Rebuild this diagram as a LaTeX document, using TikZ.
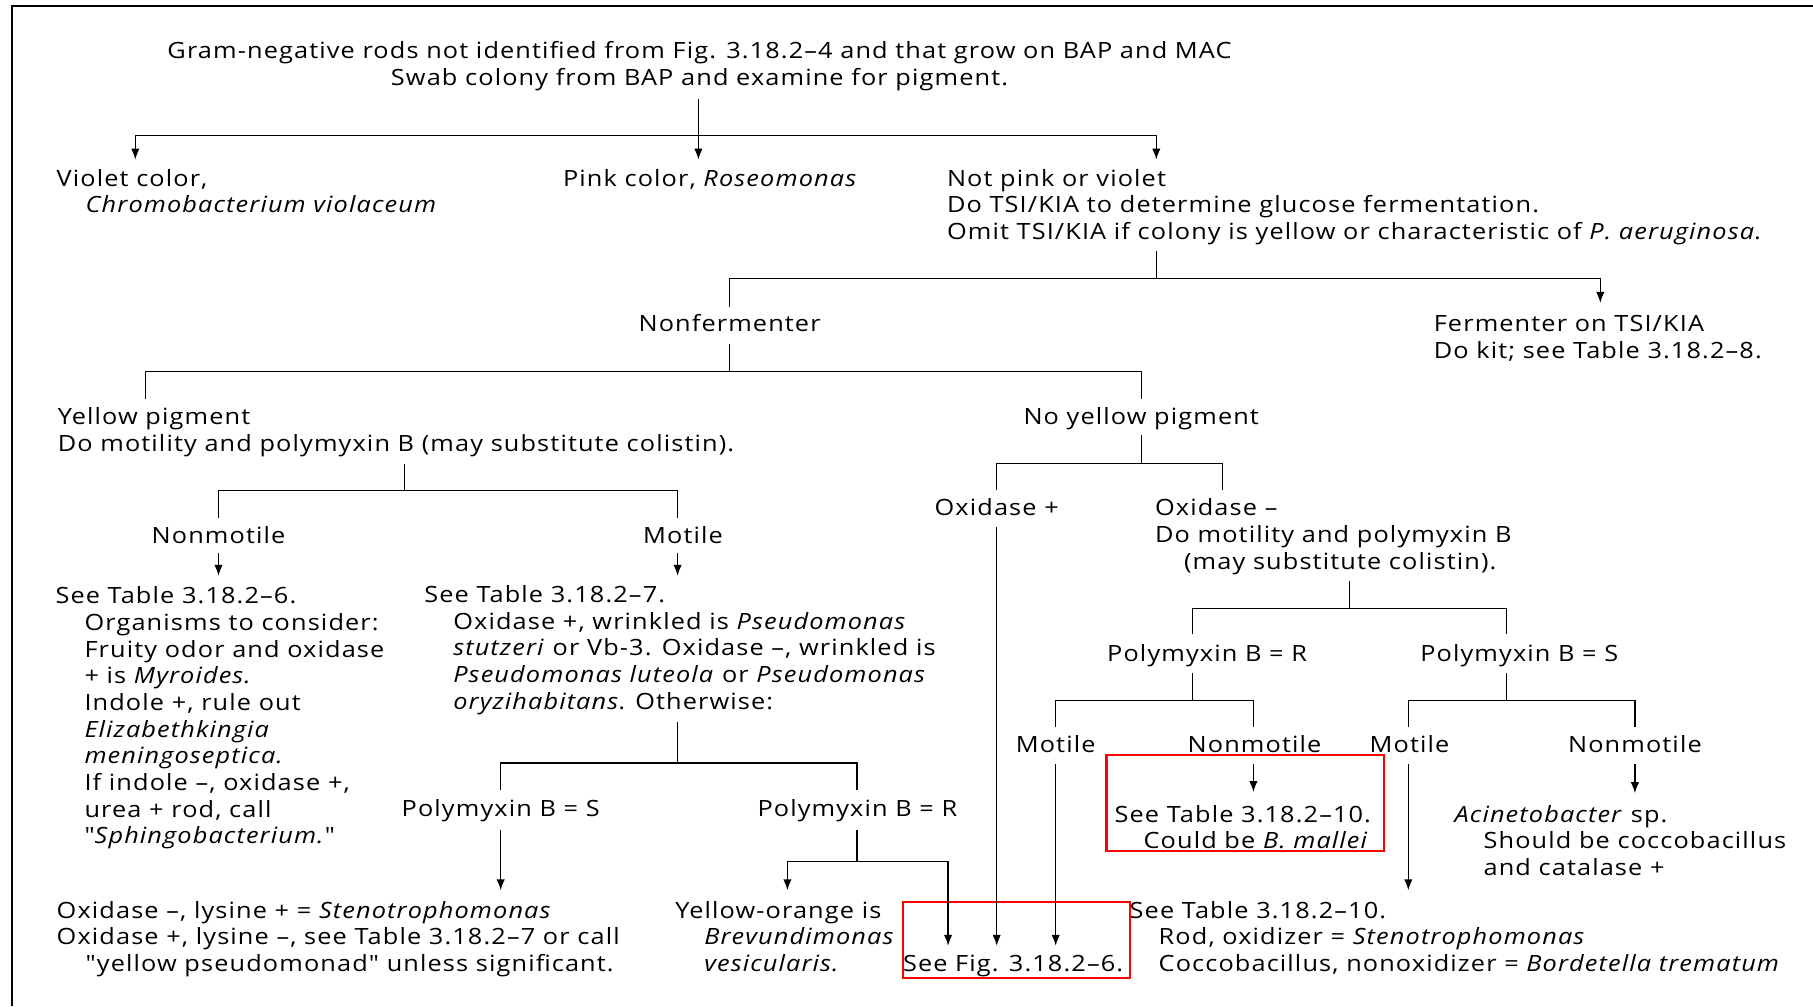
\documentclass[tikz,border=0pt]{standalone}
\usepackage{fontspec}
\setmainfont{Open Sans}[Ligatures=TeXOff, FakeStretch=1.13, LetterSpace=5]
\usetikzlibrary{arrows.meta}

% multi-line text blocks whose reference point is the first baseline
\newcommand\blockL[1]{\begin{tabular}[t]{@{}l@{}}#1\end{tabular}}
\newcommand\blockC[1]{\begin{tabular}[t]{@{}c@{}}#1\end{tabular}}
\newcommand\ind{\hspace*{14.5pt}}

\begin{document}
\begin{tikzpicture}[
  x=0.5pt, y=-0.5pt,
  every node/.style={inner sep=0pt, outer sep=0pt,
    font=\fontsize{11.2pt}{13.35pt}\selectfont},
  txt/.style={anchor=base west},
  ctxt/.style={anchor=base},
  conn/.style={line width=0.7pt, line cap=rect},
  arr/.style={line width=0.7pt, -{Latex[length=5.5pt,width=4.2pt]}},
  hilite/.style={draw=red, line width=1.1pt},
  frame/.style={line width=1.3pt}
]
\useasboundingbox (0,0) rectangle (1813,1006);

% frame along the top and left edges
\draw[frame] (12,1006) -- (12,6) -- (1813,6);

% ---------- text blocks ----------
\node[ctxt] (title) at (699.5,59) {\blockC{Gram-negative rods not identified from Fig. 3.18.2–4 and that grow on BAP and MAC\\Swab colony from BAP and examine for pigment.}};

\node[txt] (violet) at (56.7,186.2) {\blockL{Violet color,\\\ind\textit{Chromobacterium violaceum}}};
\node[txt] (pink) at (563.1,186.2) {Pink color, \textit{Roseomonas}};
\node[txt] (notpv) at (947,186.2) {\blockL{Not pink or violet\\Do TSI/KIA to determine glucose fermentation.\\Omit TSI/KIA if colony is yellow or characteristic of \textit{P. aeruginosa}.}};

\node[ctxt] (nonferm) at (729.6,331.8) {Nonfermenter};
\node[txt] (ferm) at (1433.8,331.8) {\blockL{Fermenter on TSI/KIA\\Do kit; see Table 3.18.2–8.}};

\node[txt] (yellow) at (57.8,424.3) {\blockL{Yellow pigment\\Do motility and polymyxin B (may substitute colistin).}};
\node[ctxt] (noyellow) at (1141.2,424.3) {No yellow pigment};

\node[ctxt] (ynonmot) at (218.5,543.4) {Nonmotile};
\node[ctxt] (ymot) at (683,543.4) {Motile};

\node[ctxt] (oxplus) at (996.7,515.7) {Oxidase +};
\node[txt] (oxminus) at (1155.1,515.7) {\blockL{Oxidase –\\Do motility and polymyxin B\\\ind(may substitute colistin).}};

\node[txt] (ynonmottxt) at (55.5,603.6) {\blockL{See Table 3.18.2–6.\\
  \ind Organisms to consider:\\
  \ind Fruity odor and oxidase\\
  \ind + is \textit{Myroides.}\\
  \ind Indole +, rule out\\
  \ind \textit{Elizabethkingia}\\
  \ind \textit{meningoseptica.}\\
  \ind If indole –, oxidase +,\\
  \ind urea + rod, call\\
  \ind "\textit{Sphingobacterium.}"}};

\node[txt] (ymottxt) at (424.3,602.4) {\blockL{See Table 3.18.2–7.\\
  \ind Oxidase +, wrinkled is \textit{Pseudomonas}\\
  \ind \textit{stutzeri} or Vb-3. Oxidase –, wrinkled is\\
  \ind \textit{Pseudomonas luteola} or \textit{Pseudomonas}\\
  \ind \textit{oryzihabitans}. Otherwise:}};

\node[ctxt] (pbsA) at (500.7,816.3) {Polymyxin B = S};
\node[ctxt] (pbrA) at (857.4,816.3) {Polymyxin B = R};

\node[ctxt] (pbrB) at (1207.1,661.4) {Polymyxin B = R};
\node[ctxt] (pbsB) at (1519.3,661.4) {Polymyxin B = S};

\node[ctxt] (motR) at (1055.7,752.7) {Motile};
\node[ctxt] (nonmotR) at (1254.5,752.7) {Nonmotile};
\node[ctxt] (motS) at (1409.5,752.7) {Motile};
\node[ctxt] (nonmotS) at (1634.9,752.7) {Nonmotile};

\node[txt] (mallei) at (1114.6,822.1) {\blockL{See Table 3.18.2–10.\\\ind Could be \textit{B. mallei}}};
\node[txt] (acineto) at (1454.6,822.1) {\blockL{\textit{Acinetobacter} sp.\\\ind Should be coccobacillus\\\ind and catalase +}};
\node[txt] (bordet) at (1129.7,918.1) {\blockL{See Table 3.18.2–10.\\\ind Rod, oxidizer = \textit{Stenotrophomonas}\\\ind Coccobacillus, nonoxidizer = \textit{Bordetella trematum}}};

\node[txt] (steno) at (56.7,918.1) {\blockL{Oxidase –, lysine + = \textit{Stenotrophomonas}\\Oxidase +, lysine –, see Table 3.18.2–7 or call\\\ind "yellow pseudomonad" unless significant.}};
\node[txt] (brevund) at (675.3,918.1) {\blockL{Yellow-orange is\\\ind\textit{Brevundimonas}\\\ind\textit{vesicularis.}}};
\node[txt] (seefig) at (903,971.3) {See Fig. 3.18.2–6.};

% highlighted boxes
\draw[hilite] (1106.5,755) rectangle (1384,851);
\draw[hilite] (902.7,901.7) rectangle (1130,977.7);

% ---------- branch points ----------
\coordinate (t0) at (698.4,99.4);
\coordinate (t1) at (698.4,135.3);
\coordinate (tL) at (135.3,135.3);
\coordinate (tR) at (1156.3,135.3);
\coordinate (aViolet) at (135.3,159.6);
\coordinate (aPink) at (698.4,159.6);
\coordinate (aNot) at (1156.3,159.6);

\coordinate (n0) at (1156.3,252.1);
\coordinate (n1) at (1156.3,278.7);
\coordinate (nL) at (729.6,278.7);
\coordinate (nR) at (1600.3,278.7);
\coordinate (dNonferm) at (729.6,306.4);
\coordinate (aFerm) at (1600.3,302.9);

\coordinate (f0) at (729.6,344.6);
\coordinate (f1) at (729.6,371.2);
\coordinate (fL) at (145.7,371.2);
\coordinate (fR) at (1141.2,371.2);
\coordinate (dYellow) at (145.7,397.8);
\coordinate (dNoYellow) at (1141.2,397.8);

\coordinate (y0) at (404.7,464.8);
\coordinate (y1) at (404.7,490.3);
\coordinate (yL) at (218.5,490.3);
\coordinate (yR) at (677.6,490.3);
\coordinate (dYNonmot) at (218.5,516.8);
\coordinate (dYMot) at (677.6,516.8);
\coordinate (sYNonmot) at (218.5,552.7);
\coordinate (aYNonmot) at (218.5,575.8);
\coordinate (sYMot) at (677.6,552.7);
\coordinate (aYMot) at (677.6,575.8);

\coordinate (m0) at (677.6,722.7);
\coordinate (m1) at (677.6,763.1);
\coordinate (mL) at (500.7,763.1);
\coordinate (mR) at (856.8,763.1);
\coordinate (dPbsA) at (500.7,789.7);
\coordinate (dPbrA) at (856.8,789.7);
\coordinate (sPbsA) at (500.7,830.2);
\coordinate (aSteno) at (500.7,890.3);
\coordinate (p0) at (856.8,830.2);
\coordinate (p1) at (856.8,861.4);
\coordinate (pL) at (787.4,861.4);
\coordinate (pR) at (948.1,861.4);
\coordinate (aBrev) at (787.4,890.3);
\coordinate (aFig1) at (948.1,945.8);

\coordinate (ny0) at (1141.2,435.9);
\coordinate (ny1) at (1141.2,463.7);
\coordinate (nyL) at (996.7,463.7);
\coordinate (nyR) at (1222.2,463.7);
\coordinate (dOxPlus) at (996.7,489.1);
\coordinate (dOxMinus) at (1222.2,489.1);
\coordinate (sOxPlus) at (996.7,527.3);
\coordinate (aFig2) at (996.7,945.8);

\coordinate (o0) at (1349.3,581.6);
\coordinate (o1) at (1349.3,608.2);
\coordinate (oL) at (1192.7,608.2);
\coordinate (oR) at (1506.6,608.2);
\coordinate (dPbrB) at (1192.7,633.6);
\coordinate (dPbsB) at (1506.6,633.6);

\coordinate (r0) at (1192.7,674.1);
\coordinate (r1) at (1192.7,700.7);
\coordinate (rL) at (1055.7,700.7);
\coordinate (rR) at (1253.4,700.7);
\coordinate (dMotR) at (1055.7,726.1);
\coordinate (dNonmotR) at (1253.4,726.1);
\coordinate (sMotR) at (1055.7,764.3);
\coordinate (aFig3) at (1055.7,945.8);
\coordinate (sNonmotR) at (1253.4,764.3);
\coordinate (aMallei) at (1253.4,792);

\coordinate (s0) at (1506.6,674.1);
\coordinate (s1) at (1506.6,700.7);
\coordinate (sL) at (1408.3,700.7);
\coordinate (sR) at (1634.9,700.7);
\coordinate (dMotS) at (1408.3,726.1);
\coordinate (dNonmotS) at (1634.9,726.1);
\coordinate (sMotS) at (1408.3,764.3);
\coordinate (aBordet) at (1408.3,890.3);
\coordinate (sNonmotS) at (1634.9,764.3);
\coordinate (aAcineto) at (1634.9,793.2);

% ---------- connectors ----------
% pigment split
\draw[conn] (t0) -- (t1);
\draw[conn] (tL) -- (tR);
\draw[arr] (tL) -- (aViolet);
\draw[arr] (t1) -- (aPink);
\draw[arr] (tR) -- (aNot);

% fermentation split
\draw[conn] (n0) -- (n1);
\draw[conn] (dNonferm) -- (nL) -- (nR);
\draw[arr] (nR) -- (aFerm);

% yellow / no yellow split
\draw[conn] (f0) -- (f1);
\draw[conn] (dYellow) -- (fL) -- (fR) -- (dNoYellow);

% motility of yellow strains
\draw[conn] (y0) -- (y1);
\draw[conn] (dYNonmot) -- (yL) -- (yR) -- (dYMot);
\draw[arr] (sYNonmot) -- (aYNonmot);
\draw[arr] (sYMot) -- (aYMot);

% polymyxin B of motile yellow strains
\draw[conn] (m0) -- (m1);
\draw[conn] (dPbsA) -- (mL) -- (mR) -- (dPbrA);
\draw[arr] (sPbsA) -- (aSteno);
\draw[conn] (p0) -- (p1);
\draw[conn] (pL) -- (pR);
\draw[arr] (pL) -- (aBrev);
\draw[arr] (pR) -- (aFig1);

% oxidase split
\draw[conn] (ny0) -- (ny1);
\draw[conn] (dOxPlus) -- (nyL) -- (nyR) -- (dOxMinus);
\draw[arr] (sOxPlus) -- (aFig2);

% polymyxin B of oxidase-negative strains
\draw[conn] (o0) -- (o1);
\draw[conn] (dPbrB) -- (oL) -- (oR) -- (dPbsB);

\draw[conn] (r0) -- (r1);
\draw[conn] (dMotR) -- (rL) -- (rR) -- (dNonmotR);
\draw[arr] (sMotR) -- (aFig3);
\draw[arr] (sNonmotR) -- (aMallei);

\draw[conn] (s0) -- (s1);
\draw[conn] (dMotS) -- (sL) -- (sR) -- (dNonmotS);
\draw[arr] (sMotS) -- (aBordet);
\draw[arr] (sNonmotS) -- (aAcineto);
\end{tikzpicture}
\end{document}
